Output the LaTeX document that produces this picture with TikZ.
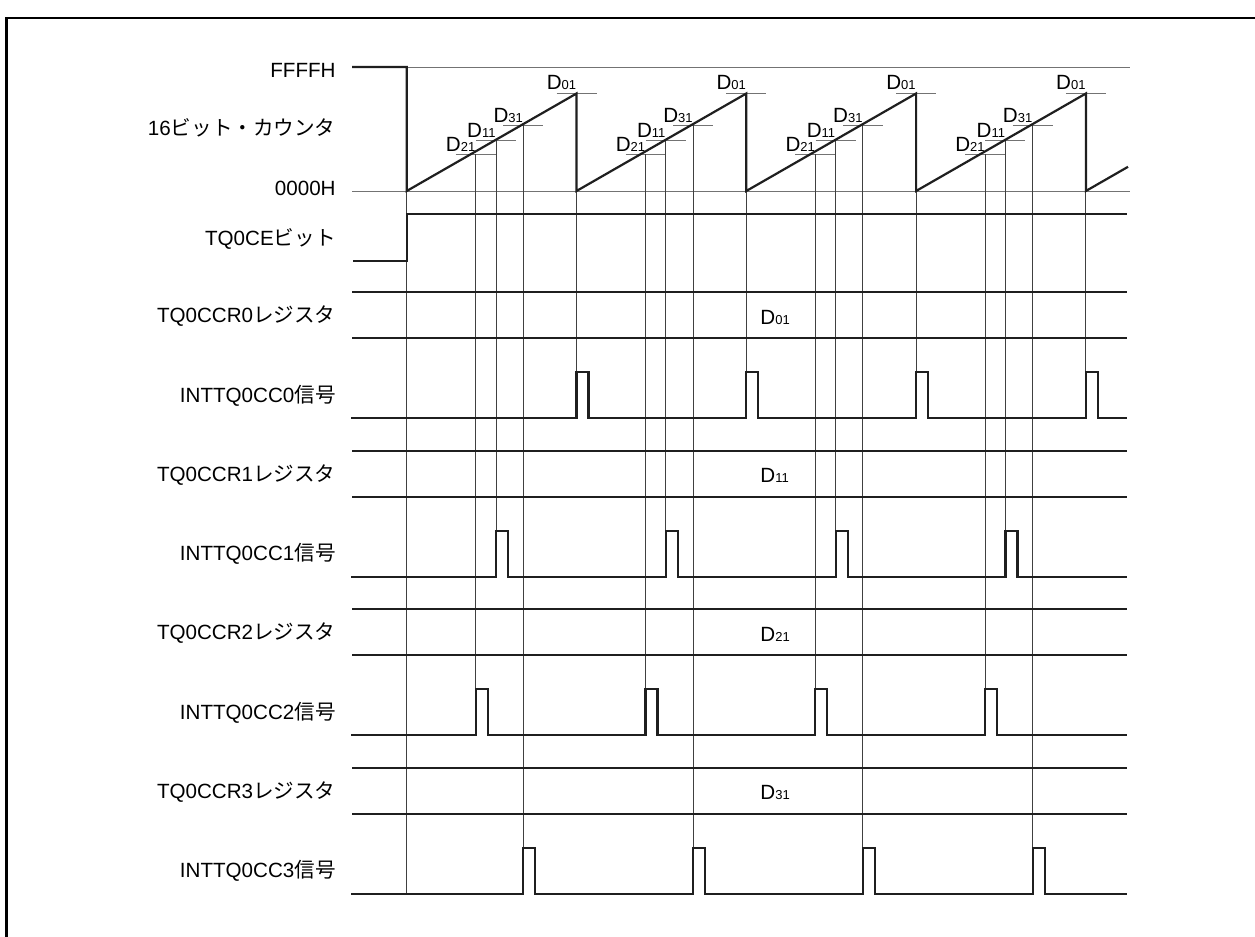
\documentclass[tikz,border=0pt]{standalone}
\usepackage{fontspec}
\setmainfont{Liberation Sans}
\newfontfamily\jpfont{Noto Sans CJK JP}
\newcommand{\jp}[1]{{\jpfont #1}}
\newcommand{\dval}[1]{D{\fontsize{6.5}{7}\selectfont #1}}

\begin{document}
\begin{tikzpicture}[x=0.5pt, y=-0.5pt,
        sig/.style={line width=1.1pt, black!88},
        lvl/.style={line width=0.5pt, black!55},
        guide/.style={line width=0.5pt, black!75},
        lbl/.style={anchor=base east, inner sep=0pt, font=\fontsize{10.3}{12}\selectfont},
        dlbl/.style={anchor=base east, inner sep=0pt, font=\fontsize{10.3}{12}\selectfont}]
        \useasboundingbox (0,0) rectangle (1255,937);

        % Frame
        \draw[line width=1.1pt] (6.4,937) -- (6.4,17.6) -- (1255,17.6);

        % Counter labels
        \node[lbl] (ffff) at (336,77) {FFFFH};
        \node[lbl] (cnt) at (336,135.5) {16\jp{ビット・カウンタ}};
        \node[lbl] (zero) at (336,195) {0000H};
        \node[lbl] (ce) at (336,245) {TQ0CE\jp{ビット}};

        % Counter levels
        \draw[lvl] (406.7,67) -- (1130,67);
        \draw[lvl] (352,191) -- (1130,191);

        % Compare values on the ramp
        \foreach \k/\dx/\yt in {0/169.8/93, 1/89.3/140.7, 2/69/154, 3/116.6/125.3} {
            \foreach \j in {0,...,3} {
                \coordinate (t\k\j) at ({406.7+169.8*\j+\dx}, \yt);
                \draw[lvl] ([xshift=-10pt]t\k\j) -- ([xshift=10pt]t\k\j);
                \node[dlbl] (d\k\j) at ([yshift=1.5pt]t\k\j) {\dval{\k1}};
            }
        }

        % Pulse positions
        \foreach \k/\dx in {0/169.8, 1/89.3, 2/69, 3/116.6} {
            \pgfmathsetmacro\yr{292.3+158.5*\k}
            \foreach \j in {0,...,3} {
                \coordinate (p\k\j) at ({406.7+169.8*\j+\dx}, \yr+80);
            }
        }

        % Guide lines
        \coordinate (s0) at (406.7,191);
        \coordinate (s1) at (406.7,893.8);
        \draw[guide] (s0) -- (s1);
        \foreach \k in {0,...,3} {
            \foreach \j in {0,...,3} {
                \draw[guide] (t\k\j) -- (p\k\j);
            }
        }

        % Sawtooth
        \draw[sig] (352,67) -- (406.7,67) -- (406.7,191)
            \foreach \j in {1,...,4} { -- ({406.7+169.8*\j},93.5) -- ({406.7+169.8*\j},191) }
            -- (1128,166.8);

        % TQ0CE bit
        \draw[sig] (353,260.7) -- (406.7,260.7) -- (406.7,214.3) -- (1127,214.3);

        % Registers and interrupt signals
        \foreach \k/\dx in {0/169.8, 1/89.3, 2/69, 3/116.6} {
            \pgfmathsetmacro\yr{292.3+158.5*\k}
            \node[lbl] (reg\k) at (336,\yr+30.5) {TQ0CCR\k\jp{レジスタ}};
            \node[lbl] (int\k) at (336,\yr+110) {INTTQ0CC\k\jp{信号}};
            \node[dlbl, anchor=base west] (val\k) at (760,\yr+32) {\dval{\k1}};
            \draw[sig] (352,\yr) -- (1127,\yr);
            \draw[sig] (352,\yr+46) -- (1127,\yr+46);
            \draw[sig] (351,\yr+126)
                \foreach \j in {0,...,3} { -- ({406.7+169.8*\j+\dx},\yr+126) -- ++(0,-46) -- ++(12,0) -- ++(0,46) }
                -- (1127,\yr+126);
        }
    \end{tikzpicture}
\end{document}
